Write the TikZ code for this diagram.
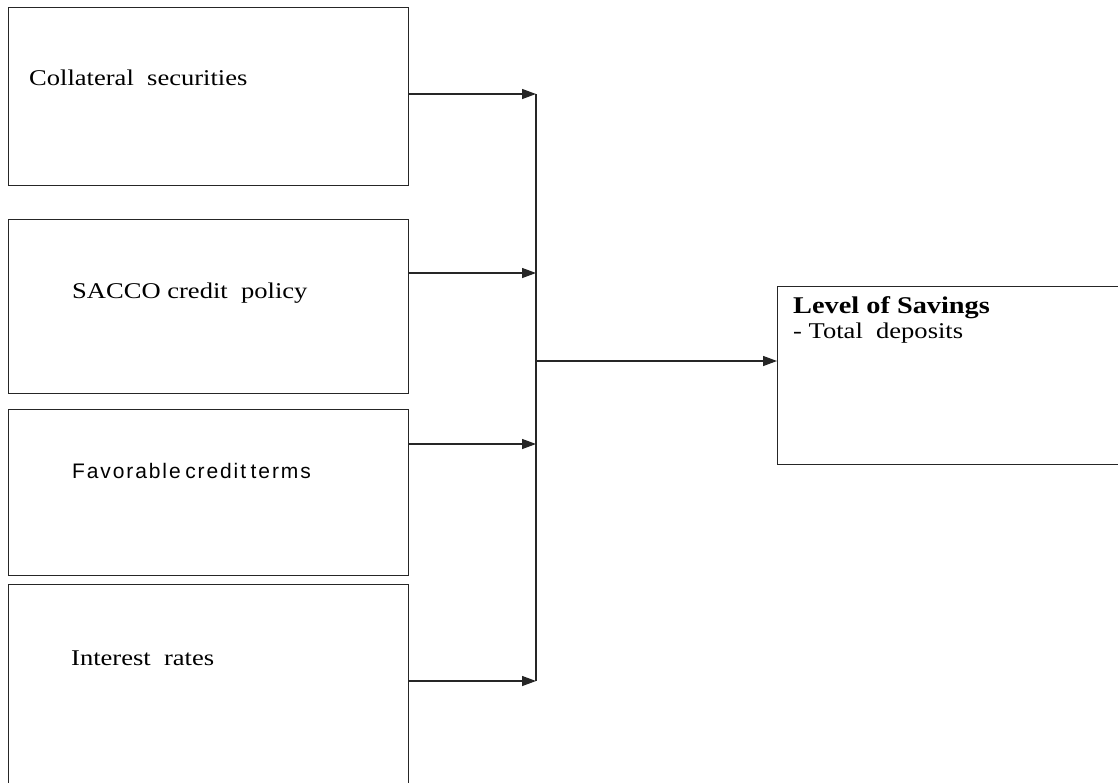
\documentclass[tikz,border=0pt]{standalone}
\usepackage{fontspec}
\setmainfont{Liberation Serif}
\newfontfamily\wideserif{Liberation Serif}[FakeStretch=1.18]
\newfontfamily\spacedsans{Liberation Sans}[LetterSpace=9,WordSpace=0.6]
\usetikzlibrary{arrows.meta,calc}

\begin{document}
\begin{tikzpicture}[x=1pt,y=-1pt,
        factor/.style={draw=black!85, line width=1.4pt, rectangle, anchor=north west,
            inner sep=0pt, minimum width=400pt},
        serifline/.style={anchor=base west, inner sep=0pt,
            font=\wideserif\fontsize{22.5}{25}\selectfont},
        sansline/.style={anchor=base west, inner sep=0pt,
            font=\spacedsans\fontsize{21}{24}\selectfont},
        flow/.style={draw=black!85, line width=1.3pt, -{Triangle[length=14pt,width=10pt]}}]
        % Page
        \fill[white] (0,0) rectangle (1118,782);
        \useasboundingbox (0,0) rectangle (1118,782);

        % Factor boxes
        \node[factor, minimum height=178pt] (coll) at (8,7) {};
        \node[factor, minimum height=174pt] (policy) at (8,219) {};
        \node[factor, minimum height=166pt] (terms) at (8,409) {};
        \node[factor, minimum height=212pt] (rates) at (8,584) {};

        % Box texts
        \node[serifline] (collText) at (29,85) {Collateral\ \ securities};
        \node[serifline] (policyText) at (72,298) {SACCO credit\ \ policy};
        \node[sansline] (termsText) at (72,478) {Favorable credit terms};
        \node[serifline] (ratesText) at (71,665) {Interest\ \ rates};

        % Outcome box
        \node[factor, minimum width=360pt, minimum height=178pt] (savings) at (777,286) {};
        \node[serifline, font=\wideserif\bfseries\fontsize{24}{25}\selectfont] (savingsHead) at (793,313) {Level of Savings};
        \node[serifline] (savingsItem) at (793,338) {- Total\ \ deposits};

        % Joining bar
        \coordinate (j1) at (536,94);
        \coordinate (j2) at (536,273);
        \coordinate (j3) at (536,444);
        \coordinate (j4) at (536,681);
        \coordinate (jout) at (536,361);
        \draw[draw=black!85, line width=1.3pt] (j1) -- (j4);

        % Arrows
        \draw[flow] (coll.east |- j1) -- (j1);
        \draw[flow] (policy.east |- j2) -- (j2);
        \draw[flow] (terms.east |- j3) -- (j3);
        \draw[flow] (rates.east |- j4) -- (j4);
        \draw[flow] (jout) -- (savings.west |- jout);
    \end{tikzpicture}
\end{document}
